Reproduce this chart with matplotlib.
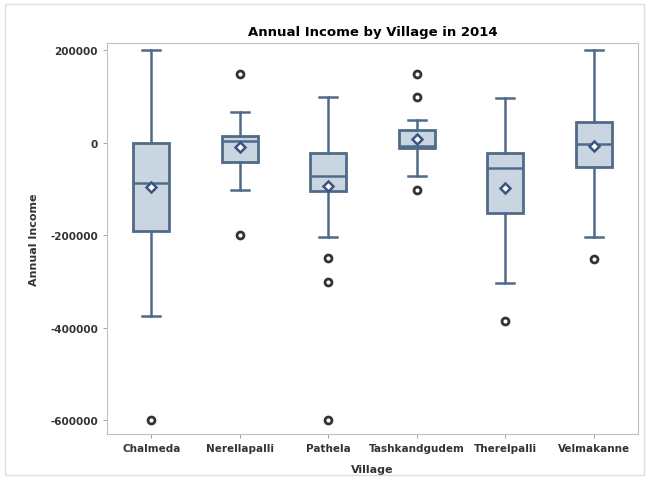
import matplotlib.pyplot as plt
from matplotlib.patches import Rectangle

villages = ["Chalmeda", "Nerellapalli", "Pathela", "Tashkandgudem", "Therelpalli", "Velmakanne"]
whislo = [-374000, -102000, -203000, -71000, -304000, -203000]
q1 = [-190000, -42000, -104000, -11000, -151000, -52000]
med = [-86000, 4000, -71000, -6000, -54000, -2000]
q3 = [0, 15000, -22000, 28000, -22000, 46000]
whishi = [200000, 67000, 100000, 50000, 98000, 200000]
means = [-95000, -9000, -93000, 9000, -97000, -6000]
outliers = [
    [-600000],
    [150000, -200000],
    [-250000, -302000, -600000],
    [150000, 100000, -102000],
    [-385000],
    [-252000],
]

stats = []
for i, v in enumerate(villages):
    stats.append(dict(label=v, whislo=whislo[i], q1=q1[i], med=med[i], q3=q3[i],
                      whishi=whishi[i], mean=means[i], fliers=outliers[i]))

edge = "#4f6b88"
fig = plt.figure(figsize=(6.49, 4.81), dpi=100)
ax = fig.add_axes([0.165, 0.096, 0.818, 0.8125])

ax.bxp(stats, positions=range(1, 7), widths=0.41, showmeans=True, patch_artist=True,
       boxprops=dict(facecolor="#c9d5e1", edgecolor=edge, linewidth=2),
       whiskerprops=dict(color=edge, linewidth=1.8),
       capprops=dict(color=edge, linewidth=1.8),
       capwidths=0.2,
       medianprops=dict(color=edge, linewidth=1.8),
       meanprops=dict(marker="D", markersize=5.5, markerfacecolor="white",
                      markeredgecolor="#3b5580", markeredgewidth=1.8),
       flierprops=dict(marker="o", markersize=5, markerfacecolor="white",
                       markeredgecolor="#333333", markeredgewidth=2))

ax.set_xlim(0.5, 6.5)
ax.set_ylim(-630000, 216000)
ax.set_yticks([200000, 0, -200000, -400000, -600000])
ax.set_yticklabels(["200000", "0", "-200000", "-400000", "-600000"])
ax.tick_params(labelsize=7.5, length=3, color="#aaaaaa")
for lab in ax.get_xticklabels() + ax.get_yticklabels():
    lab.set_fontweight("bold")
    lab.set_color("#333333")
for s in ax.spines.values():
    s.set_color("#b8c4c4")

ax.set_title("Annual Income by Village in 2014", fontsize=9.5, fontweight="bold", pad=6)
ax.set_xlabel("Village", fontsize=8, fontweight="bold", color="#333333", labelpad=8)
ax.set_ylabel("Annual Income", fontsize=8, fontweight="bold", color="#333333", labelpad=8)

fig.patches.append(Rectangle((0.008, 0.01), 0.985, 0.98, transform=fig.transFigure,
                             fill=False, edgecolor="#dddddd", linewidth=1))

fig.savefig("out.png", dpi=100)
